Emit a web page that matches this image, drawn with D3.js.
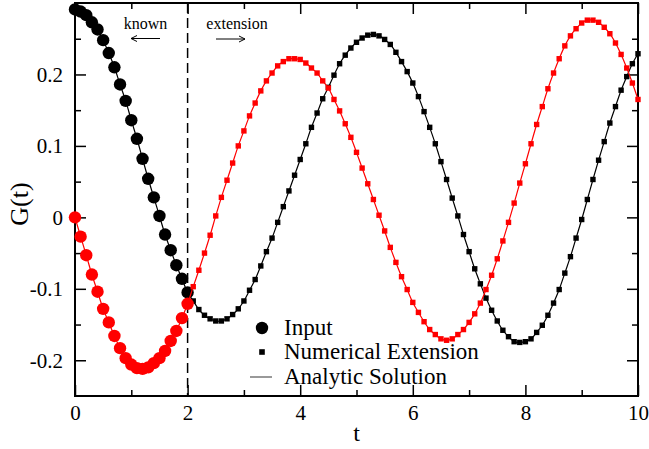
<!DOCTYPE html>
<html>
<head>
<meta charset="utf-8">
<script src="https://cdn.jsdelivr.net/npm/d3@7"></script>
<style>
  html, body { margin: 0; padding: 0; background: #fff; }
  svg { display: block; font-family: "Liberation Serif", "Times New Roman", serif; }
</style>
</head>
<body>
<div id="chart"></div>
<script>

// sample times: t = 0.0, 0.1, ... 10.0
const times = d3.range(101).map(i => i / 10);
const splitTime = 2;   // input for t <= 2, extension after

const blackValues = [
  0.291, 0.288, 0.283, 0.273, 0.263, 0.248, 0.230, 0.210, 0.186, 0.163,
  0.136, 0.110, 0.082, 0.054, 0.028, 0.002, -0.024, -0.046, -0.067, -0.086,
  -0.105, -0.117, -0.129, -0.137, -0.142, -0.145, -0.145, -0.142, -0.136, -0.128,
  -0.117, -0.102, -0.087, -0.068, -0.048, -0.029, -0.007, 0.015, 0.037, 0.059,
  0.081, 0.103, 0.126, 0.146, 0.166, 0.182, 0.199, 0.215, 0.227, 0.237,
  0.245, 0.251, 0.255, 0.256, 0.254, 0.249, 0.242, 0.231, 0.218, 0.204,
  0.188, 0.169, 0.148, 0.126, 0.103, 0.078, 0.053, 0.027, 0.002, -0.024,
  -0.048, -0.072, -0.093, -0.113, -0.130, -0.145, -0.158, -0.167, -0.174, -0.175,
  -0.174, -0.170, -0.161, -0.151, -0.137, -0.120, -0.101, -0.078, -0.055, -0.029,
  -0.003, 0.025, 0.053, 0.080, 0.106, 0.132, 0.155, 0.178, 0.197, 0.215,
  0.229
];

// imaginary part (red)
const redValues = [
  0.000, -0.027, -0.053, -0.080, -0.104, -0.128, -0.147, -0.166, -0.183, -0.197,
  -0.206, -0.211, -0.212, -0.210, -0.204, -0.197, -0.187, -0.173, -0.159, -0.141,
  -0.121, -0.097, -0.074, -0.050, -0.025, 0.002, 0.028, 0.052, 0.076, 0.100,
  0.121, 0.142, 0.160, 0.177, 0.191, 0.202, 0.212, 0.218, 0.222, 0.222,
  0.221, 0.216, 0.209, 0.202, 0.191, 0.181, 0.165, 0.149, 0.131, 0.112,
  0.091, 0.069, 0.047, 0.025, 0.003, -0.019, -0.042, -0.063, -0.083, -0.101,
  -0.119, -0.133, -0.146, -0.157, -0.164, -0.170, -0.172, -0.170, -0.164, -0.157,
  -0.147, -0.135, -0.120, -0.101, -0.081, -0.058, -0.033, -0.007, 0.020, 0.048,
  0.075, 0.103, 0.130, 0.155, 0.180, 0.202, 0.222, 0.240, 0.254, 0.264,
  0.272, 0.276, 0.276, 0.273, 0.266, 0.257, 0.244, 0.228, 0.209, 0.188,
  0.165
];

const xMajor = [0, 2, 4, 6, 8, 10];
const xMinor = [1, 3, 5, 7, 9];
const yMajor = [-0.2, -0.1, 0, 0.1, 0.2];
const yMinor = [-0.15, -0.05, 0.05, 0.15, 0.25];

const legendLabels = ["Input", "Numerical Extension", "Analytic Solution"];

const series = [
  { values: blackValues, color: "#000" },
  { values: redValues, color: "#ff0000" }
];


const W = 649, H = 449;
const margin = { top: 3, right: 11, bottom: 53, left: 75 };

const x = d3.scaleLinear().domain([0, 10]).range([margin.left, W - margin.right]);
const y = d3.scaleLinear().domain([-0.25, 0.3]).range([H - margin.bottom, margin.top]);

const svg = d3.select('#chart').append('svg')
  .attr('width', W)
  .attr('height', H);

svg.append('rect').attr('width', W).attr('height', H).attr('fill', '#fff');

const fmt = d => (d === 0 ? "0" : String(d));

// axes, ticks pointing inside the frame
function addAxis(axisFn, ticks, size, transform, labels) {
  const g = svg.append('g')
    .attr('transform', transform)
    .call(axisFn
      .tickValues(ticks)
      .tickSizeInner(-size)
      .tickSizeOuter(0)
      .tickPadding(labels ? 9 + size : 0)
      .tickFormat(labels ? fmt : () => ""));
  g.select('.domain').remove();
  g.selectAll('.tick line').attr('stroke', '#000').attr('stroke-width', 1.5);
  g.selectAll('.tick text')
    .attr('fill', '#000')
    .style('font-size', '21px')
    .style('font-family', '"Liberation Serif", "Times New Roman", serif');
  return g;
}

const bottomY = y.range()[0], topY = y.range()[1];
const leftX = x.range()[0], rightX = x.range()[1];

const xb = addAxis(d3.axisBottom(x), xMajor, 11, `translate(0,${bottomY})`, true);
xb.selectAll('.tick text').attr('y', 9);
addAxis(d3.axisBottom(x), xMinor, 6, `translate(0,${bottomY})`, false);
addAxis(d3.axisTop(x), xMajor, 11, `translate(0,${topY})`, false);
addAxis(d3.axisTop(x), xMinor, 6, `translate(0,${topY})`, false);

const yl = addAxis(d3.axisLeft(y), yMajor, 11, `translate(${leftX},0)`, true);
yl.selectAll('.tick text').attr('x', -12);
addAxis(d3.axisLeft(y), yMinor, 6, `translate(${leftX},0)`, false);
addAxis(d3.axisRight(y), yMajor, 11, `translate(${rightX},0)`, false);
addAxis(d3.axisRight(y), yMinor, 6, `translate(${rightX},0)`, false);

// frame
svg.append('rect')
  .attr('x', leftX).attr('y', topY)
  .attr('width', rightX - leftX).attr('height', bottomY - topY)
  .attr('fill', 'none').attr('stroke', '#000').attr('stroke-width', 2);

// dashed separator at t = 2
svg.append('line')
  .attr('x1', x(splitTime)).attr('x2', x(splitTime))
  .attr('y1', topY).attr('y2', bottomY)
  .attr('stroke', '#000').attr('stroke-width', 1.5)
  .attr('stroke-dasharray', '10,5');

// curves
const line = d3.line()
  .x(d => x(d.t))
  .y(d => y(d.v))
  .curve(d3.curveCatmullRom);

series.forEach(s => {
  const pts = times.map((t, i) => ({ t: t, v: s.values[i] }));
  const g = svg.append('g');

  g.append('path')
    .datum(pts)
    .attr('fill', 'none')
    .attr('stroke', s.color)
    .attr('stroke-width', 1.2)
    .attr('d', line);

  g.selectAll('circle')
    .data(pts.filter(d => d.t <= splitTime + 1e-9))
    .enter()
    .append('circle')
      .attr('cx', d => x(d.t))
      .attr('cy', d => y(d.v))
      .attr('r', 6.2)
      .attr('fill', s.color);

  g.selectAll('rect')
    .data(pts.filter(d => d.t > splitTime + 1e-9))
    .enter()
    .append('rect')
      .attr('x', d => x(d.t) - 2.7)
      .attr('y', d => y(d.v) - 2.7)
      .attr('width', 5.4)
      .attr('height', 5.4)
      .attr('fill', s.color);
});

// axis titles
svg.append('text')
  .attr('x', (leftX + rightX) / 2).attr('y', 441)
  .attr('text-anchor', 'middle')
  .style('font-size', '24px')
  .text('t');

svg.append('text')
  .attr('transform', 'translate(28,204) rotate(-90)')
  .attr('text-anchor', 'middle')
  .style('font-size', '26px')
  .text('G(t)');

// known / extension notes with arrows
svg.append('text')
  .attr('x', 145.5).attr('y', 29)
  .attr('text-anchor', 'middle')
  .style('font-size', '16px')
  .text('known');

svg.append('text')
  .attr('x', 237).attr('y', 29)
  .attr('text-anchor', 'middle')
  .style('font-size', '16px')
  .text('extension');

function arrow(x1, x2, yy) {
  const dir = Math.sign(x2 - x1);
  svg.append('path')
    .attr('d', `M${x1},${yy}H${x2}M${x2 - dir * 6},${yy - 3}L${x2},${yy}L${x2 - dir * 6},${yy + 3}`)
    .attr('fill', 'none')
    .attr('stroke', '#000')
    .attr('stroke-width', 1);
}
arrow(160, 131, 38.5);
arrow(216, 245, 39);

// legend
const legend = svg.append('g');
const lx = 262, ly = [328, 352, 377];

legend.append('circle').attr('cx', lx).attr('cy', ly[0]).attr('r', 6.2).attr('fill', '#000');
legend.append('rect').attr('x', lx - 2.8).attr('y', ly[1] - 2.8).attr('width', 5.6).attr('height', 5.6).attr('fill', '#000');
legend.append('line').attr('x1', 250).attr('x2', 272).attr('y1', ly[2]).attr('y2', ly[2])
  .attr('stroke', '#555').attr('stroke-width', 1.2);

legend.selectAll('text')
  .data(legendLabels)
  .enter()
  .append('text')
    .attr('x', 284)
    .attr('y', (d, i) => ly[i] + 6.5)
    .style('font-size', '23px')
    .text(d => d);

</script>
</body>
</html>
